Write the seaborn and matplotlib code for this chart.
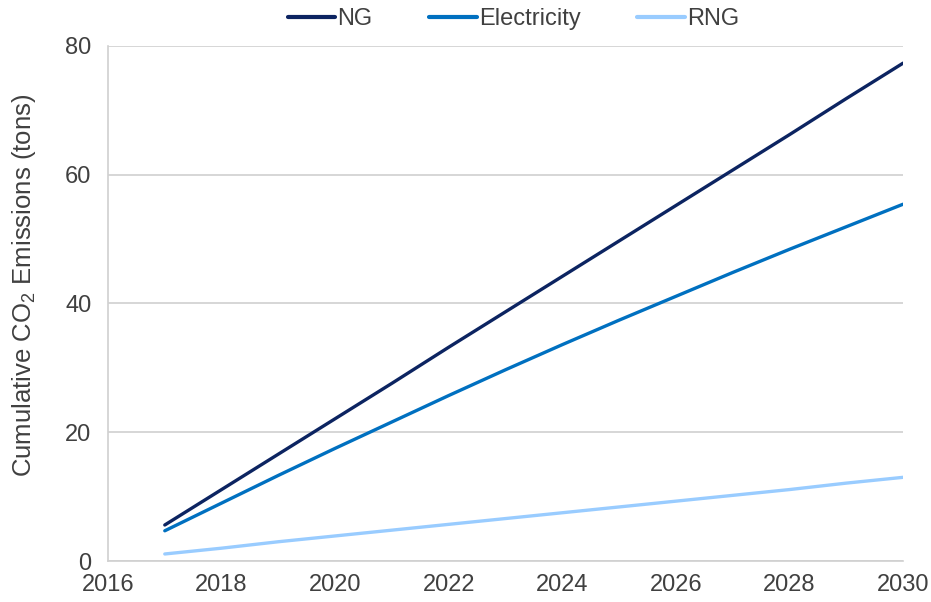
import pandas as pd
import matplotlib
matplotlib.use("Agg")
import matplotlib.pyplot as plt
import seaborn as sns

# values
years = list(range(2017, 2031))
ng = [5.6, 11.1, 16.6, 22.1, 27.6, 33.2, 38.7, 44.2, 49.7, 55.2, 60.7, 66.2, 71.8, 77.3]
electricity = [4.7, 9.0, 13.3, 17.5, 21.6, 25.7, 29.7, 33.6, 37.4, 41.1, 44.8, 48.4, 51.9, 55.4]
rng = [1.1, 2.0, 3.0, 3.9, 4.8, 5.7, 6.6, 7.5, 8.4, 9.3, 10.2, 11.1, 12.1, 13.0]

series_names = ["NG", "Electricity", "RNG"]
colors = ["#0c2461", "#0070c0", "#99ccff"]

df = pd.DataFrame({"Year": years, "NG": ng, "Electricity": electricity, "RNG": rng})
long_df = df.melt(id_vars="Year", var_name="Fuel", value_name="Emissions")

sns.set_style("white")
plt.rcParams["font.family"] = ["Liberation Sans", "DejaVu Sans"]
plt.rcParams["mathtext.fontset"] = "custom"
plt.rcParams["mathtext.rm"] = "Liberation Sans"

text_color = "#404040"
grid_color = "#d0d0d0"

fig = plt.figure(figsize=(9.31, 6.02), dpi=100)
ax = fig.add_axes([0.116, 0.068, 0.854, 0.856])

sns.lineplot(data=long_df, x="Year", y="Emissions", hue="Fuel",
             hue_order=series_names, palette=colors, linewidth=2.4, ax=ax)

ax.set_xlim(2016, 2030)
ax.set_ylim(0, 80)
ax.set_xticks(range(2016, 2031, 2))
ax.set_yticks(range(0, 81, 20))
ax.yaxis.grid(True, color=grid_color, linewidth=1.2)
ax.xaxis.grid(False)
ax.set_axisbelow(True)

for side in ["top", "right"]:
    ax.spines[side].set_visible(False)
for side in ["left", "bottom"]:
    ax.spines[side].set_color(grid_color)
    ax.spines[side].set_linewidth(1.2)

ax.tick_params(axis="y", which="major", length=8, color=grid_color, width=1.2,
               labelsize=17, labelcolor=text_color, pad=4)
ax.tick_params(axis="x", which="major", length=0, labelsize=17,
               labelcolor=text_color, pad=9)

ax.set_xlabel("")
ax.set_ylabel(r"Cumulative CO$_\mathregular{2}$ Emissions (tons)",
              fontsize=18.5, color=text_color)
ax.yaxis.set_label_coords(-0.088, 0.535)

leg = ax.legend(loc="lower center", bbox_to_anchor=(0.51, 1.0), ncol=3,
                frameon=False, fontsize=17, handlelength=2.0, handletextpad=0.1,
                columnspacing=2.4, borderaxespad=0.25)
for txt in leg.get_texts():
    txt.set_color(text_color)
for line in leg.get_lines():
    line.set_linewidth(3)

fig.savefig("out.png", dpi=100)
